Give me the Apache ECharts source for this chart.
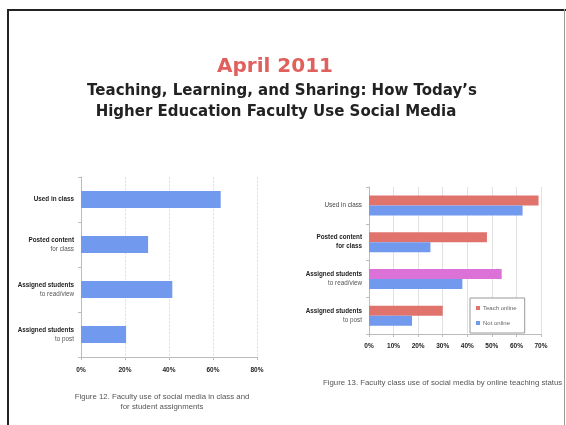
<!DOCTYPE html>
<html>
<head>
<meta charset="utf-8">
<script src="https://cdn.jsdelivr.net/npm/echarts@6/dist/echarts.min.js"></script>
<style>html,body{margin:0;padding:0;background:#fff;}#c{width:566px;height:425px;}</style>
</head>
<body>
<div id="c"></div>
<script>
// ---- data ----
var titleMain = 'April 2011';
var titleSub1 = 'Teaching, Learning, and Sharing: How Today\u2019s';
var titleSub2 = 'Higher Education Faculty Use Social Media';

var categories = ['Used in class', 'Posted content\nfor class', 'Assigned students\nto read/view', 'Assigned students\nto post'];

var fig12Values = [63.5, 30.5, 41.5, 20.5];
var fig12Ticks = [0, 20, 40, 60, 80];
var fig12Caption = 'Figure 12. Faculty use of social media in class and\nfor student assignments';

var fig13TeachOnline = [69, 48, 54, 30];
var fig13NotOnline = [62.5, 25, 38, 17.5];
var fig13Ticks = [0, 10, 20, 30, 40, 50, 60, 70];
var fig13SeriesNames = ['Teach online', 'Not online'];
var fig13Caption = 'Figure 13. Faculty class use of social media by online teaching status';

// ---- chart ----
var BLUE = '#7199ee', RED = '#e0736c', PINK = '#dc72d8';
var chart = echarts.init(document.getElementById('c'), null, {renderer: 'canvas'});

// boldMap: per category [firstLineBold, secondLineBold]
function catLabel(boldMap) {
  return {
    fontSize: 6.3, color: '#333', fontFamily: 'Liberation Sans', lineHeight: 9, margin: 7,
    formatter: function (v, idx) {
      var p = v.split('\n');
      var bm = boldMap[idx] || [false, false];
      var s = '{' + (bm[0] ? 'bd' : 'nd') + '|' + p[0] + '}';
      if (p[1]) s += '\n{' + (bm[1] ? 'bl' : 'nl') + '|' + p[1] + '}';
      return s;
    },
    rich: {
      bd: {fontSize: 6.3, fontWeight: 'bold', color: '#222', fontFamily: 'Liberation Sans', lineHeight: 9, align: 'right'},
      nd: {fontSize: 6.3, fontWeight: 'normal', color: '#444', fontFamily: 'Liberation Sans', lineHeight: 9, align: 'right'},
      bl: {fontSize: 6.3, fontWeight: 'bold', color: '#222', fontFamily: 'Liberation Sans', lineHeight: 9, align: 'right'},
      nl: {fontSize: 6.3, fontWeight: 'normal', color: '#555', fontFamily: 'Liberation Sans', lineHeight: 9, align: 'right'}
    }
  };
}

var option = {
  backgroundColor: '#fff',
  animation: false,
  graphic: [
    {type: 'rect', shape: {x: 7, y: 9, width: 2, height: 416}, style: {fill: '#222'}},
    {type: 'rect', shape: {x: 7, y: 9, width: 559, height: 2}, style: {fill: '#222'}},
    {type: 'rect', shape: {x: 564, y: 9, width: 1, height: 416}, style: {fill: '#999'}},
    {type: 'text', x: 275, y: 67, style: {text: titleMain, fill: '#e0605e', font: 'bold 20px "DejaVu Sans"', textAlign: 'center', textVerticalAlign: 'middle'}},
    {type: 'text', x: 282, y: 91, style: {text: titleSub1, fill: '#222', font: 'bold 15px "DejaVu Sans"', textAlign: 'center', textVerticalAlign: 'middle'}},
    {type: 'text', x: 276, y: 112, style: {text: titleSub2, fill: '#222', font: 'bold 15px "DejaVu Sans"', textAlign: 'center', textVerticalAlign: 'middle'}},
    {type: 'text', x: 162, y: 402, style: {text: fig12Caption, fill: '#555', font: '7.8px "Liberation Sans"', textAlign: 'center', textVerticalAlign: 'middle', lineHeight: 10}},
    {type: 'text', x: 323, y: 383, style: {text: fig13Caption, fill: '#555', font: '7.8px "Liberation Sans"', textAlign: 'left', textVerticalAlign: 'middle'}}
  ],
  legend: {
    data: fig13SeriesNames,
    orient: 'vertical',
    left: 470, top: 298,
    backgroundColor: '#fff',
    borderColor: '#999', borderWidth: 1,
    padding: [7, 8, 7, 6],
    itemWidth: 4, itemHeight: 4, itemGap: 9,
    icon: 'rect',
    textStyle: {fontSize: 6, color: '#666', fontFamily: 'Liberation Sans', padding: [0, 0, 0, -2]},
    z: 10
  },
  grid: [
    {left: 81, top: 177, width: 176, height: 180, containLabel: false},
    {left: 369, top: 187, width: 172, height: 147, containLabel: false}
  ],
  xAxis: [
    {
      gridIndex: 0, type: 'value', min: fig12Ticks[0], max: fig12Ticks[fig12Ticks.length - 1], interval: fig12Ticks[1] - fig12Ticks[0],
      axisLine: {show: true, lineStyle: {color: '#bbb'}},
      axisTick: {show: true, length: 3, lineStyle: {color: '#bbb'}},
      splitLine: {show: true, lineStyle: {color: '#ccc', type: 'dashed', width: 0.6}},
      axisLabel: {formatter: '{value}%', fontSize: 6.5, fontWeight: 'bold', color: '#222', fontFamily: 'Liberation Sans', margin: 10}
    },
    {
      gridIndex: 1, type: 'value', min: fig13Ticks[0], max: fig13Ticks[fig13Ticks.length - 1], interval: fig13Ticks[1] - fig13Ticks[0],
      axisLine: {show: true, lineStyle: {color: '#bbb'}},
      axisTick: {show: true, length: 3, lineStyle: {color: '#bbb'}},
      splitLine: {show: true, lineStyle: {color: '#ccc', width: 0.6}},
      axisLabel: {formatter: '{value}%', fontSize: 6.5, fontWeight: 'bold', color: '#222', fontFamily: 'Liberation Sans', margin: 9}
    }
  ],
  yAxis: [
    {
      gridIndex: 0, type: 'category', data: categories, inverse: true,
      axisLine: {show: true, lineStyle: {color: '#bbb'}},
      axisTick: {show: true, length: 3, lineStyle: {color: '#bbb'}},
      axisLabel: catLabel([[true, false], [true, false], [true, false], [true, false]])
    },
    {
      gridIndex: 1, type: 'category', data: categories, inverse: true,
      axisLine: {show: true, lineStyle: {color: '#bbb'}},
      axisTick: {show: true, length: 3, lineStyle: {color: '#bbb'}},
      axisLabel: catLabel([[false, false], [true, true], [true, false], [true, false]])
    }
  ],
  series: [
    {
      type: 'bar', xAxisIndex: 0, yAxisIndex: 0, data: fig12Values,
      barWidth: 17, itemStyle: {color: BLUE}, silent: true
    },
    {
      name: fig13SeriesNames[0], type: 'bar', xAxisIndex: 1, yAxisIndex: 1,
      data: fig13TeachOnline.map(function (v, i) { return i === 2 ? {value: v, itemStyle: {color: PINK}} : v; }),
      barWidth: 10, barGap: '0%', itemStyle: {color: RED}, silent: true
    },
    {
      name: fig13SeriesNames[1], type: 'bar', xAxisIndex: 1, yAxisIndex: 1, data: fig13NotOnline,
      barWidth: 10, barGap: '0%', itemStyle: {color: BLUE}, silent: true
    }
  ]
};
chart.setOption(option);
</script>
</body>
</html>
